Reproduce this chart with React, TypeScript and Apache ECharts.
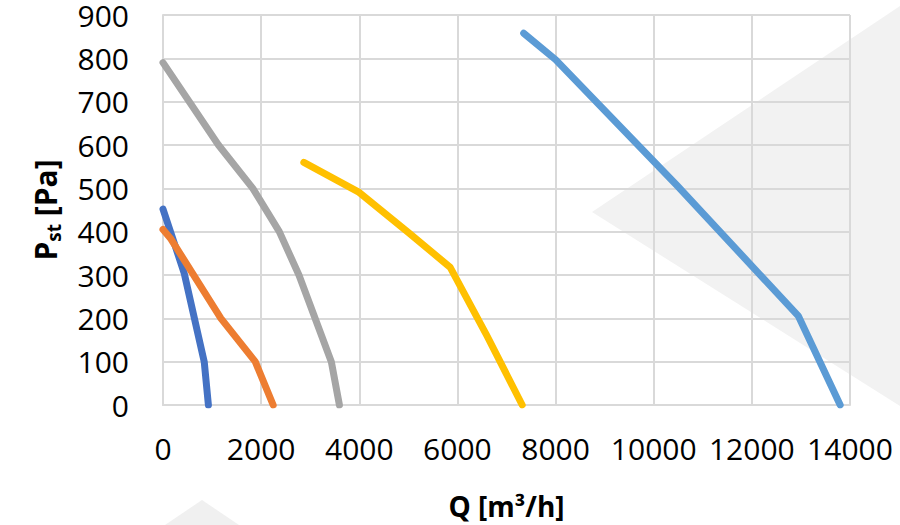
import React, { useEffect, useRef } from "react";
import * as echarts from "echarts";

const FONT = "'Open Sans', 'Noto Sans', sans-serif";

const xTicks = { min: 0, max: 14000, interval: 2000 };
const yTicks = { min: 0, max: 900, interval: 100 };

const seriesNames = ["A", "B", "C", "D", "E"];
const seriesColors = ["#4472C4", "#ED7D31", "#A5A5A5", "#FFC000", "#5B9BD5"];

const curveA: [number, number][] = [[0, 452], [430, 305], [840, 100], [925, 0]];
const curveB: [number, number][] = [[0, 405], [150, 385], [1180, 200], [1880, 100], [2245, 0]];
const curveC: [number, number][] = [[0, 790], [1130, 600], [1830, 500], [2370, 400], [2770, 300], [3430, 100], [3595, 0]];
const curveD: [number, number][] = [[2870, 560], [3980, 492], [5000, 398], [5850, 318], [6600, 160], [7320, 0]];
const curveE: [number, number][] = [[7350, 858], [8000, 797], [10480, 506], [12950, 205], [13800, 0]];

const curves = [curveA, curveB, curveC, curveD, curveE];

export default function App() {
  const ref = useRef<HTMLDivElement>(null);
  useEffect(() => {
    if (!ref.current) return;
    const chart = echarts.init(ref.current, undefined, { renderer: "svg" });
    const gridColor = "#d9d9d9";
    chart.setOption({
      animation: false,
      backgroundColor: "#ffffff",
      graphic: [
        {
          type: "polygon",
          z: -10,
          silent: true,
          shape: { points: [[592, 212], [900, 6], [900, 406]] },
          style: { fill: "#f2f2f2" },
        },
        {
          type: "polygon",
          z: -10,
          silent: true,
          shape: { points: [[202, 500], [165, 525], [239, 525]] },
          style: { fill: "#f0f0f0" },
        },
      ],
      grid: { left: 163, right: 50, top: 14, bottom: 116, containLabel: false },
      xAxis: {
        type: "value",
        min: xTicks.min,
        max: xTicks.max,
        interval: xTicks.interval,
        name: "Q [m³/h]",
        nameLocation: "middle",
        nameGap: 87,
        nameTextStyle: { fontFamily: FONT, fontSize: 28, fontWeight: "bold", color: "#000" },
        axisLine: { show: true, lineStyle: { color: gridColor, width: 2 } },
        axisTick: { show: false },
        splitLine: { show: true, lineStyle: { color: gridColor, width: 2 } },
        axisLabel: { fontFamily: FONT, fontSize: 30, color: "#000", margin: 28, formatter: (v: number) => String(v) },
      },
      yAxis: {
        type: "value",
        min: yTicks.min,
        max: yTicks.max,
        interval: yTicks.interval,
        name: "{p|P}{s|st}{p| [Pa]}",
        nameLocation: "middle",
        nameRotate: 90,
        nameGap: 100,
        nameTextStyle: {
          fontFamily: FONT,
          color: "#000",
          rich: {
            p: { fontFamily: FONT, fontSize: 30, fontWeight: "bold", color: "#000", lineHeight: 36 },
            s: { fontFamily: FONT, fontSize: 19, fontWeight: "bold", color: "#000", lineHeight: 20, verticalAlign: "bottom" },
          },
        },
        axisLine: { show: true, lineStyle: { color: gridColor, width: 2 } },
        axisTick: { show: false },
        splitLine: { show: true, lineStyle: { color: gridColor, width: 2 } },
        axisLabel: { fontFamily: FONT, fontSize: 30, lineHeight: 26, color: "#000", margin: 34, formatter: (v: number) => String(v) },
      },
      series: curves.map((d, i) => ({
        name: seriesNames[i],
        type: "line",
        data: d,
        symbol: "none",
        showSymbol: false,
        z: 3,
        lineStyle: { color: seriesColors[i], width: 7, cap: "round", join: "round" },
      })),
    });
    return () => chart.dispose();
  }, []);
  return (
    <div
      ref={ref}
      style={{ position: "fixed", left: 0, top: 0, width: 900, height: 525 }}
    />
  );
}
